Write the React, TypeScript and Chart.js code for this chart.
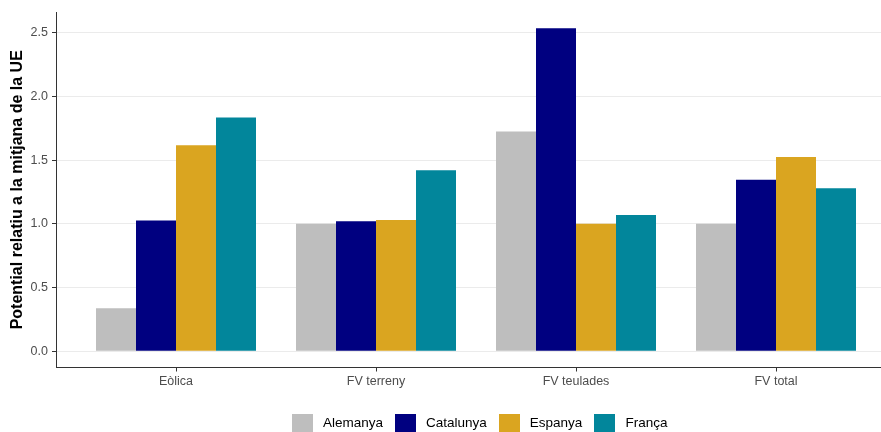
import React, { useEffect, useRef } from "react";
import { Chart, registerables } from "chart.js";

Chart.register(...registerables);

const categories = ["Eòlica", "FV terreny", "FV teulades", "FV total"];
const seriesNames = ["Alemanya", "Catalunya", "Espanya", "França"];
const alemanya = [0.337, 1.0, 1.725, 1.0];
const catalunya = [1.027, 1.02, 2.535, 1.345];
const espanya = [1.616, 1.03, 1.0, 1.525];
const franca = [1.835, 1.42, 1.07, 1.28];
const yTicks = [0, 0.5, 1.0, 1.5, 2.0, 2.5];
const colors = ["#BEBEBE", "#000080", "#DAA520", "#02869B"];
const yTitle = "Potential relatiu a la mitjana de la UE";

const FONT = "'Liberation Sans', Arial, Helvetica, sans-serif";

export default function App() {
  const ref = useRef<HTMLCanvasElement | null>(null);

  useEffect(() => {
    if (!ref.current) return;
    const seriesValues = [alemanya, catalunya, espanya, franca];
    const chart = new Chart(ref.current, {
      type: "bar",
      data: {
        datasets: seriesNames.map((name, i) => ({
          label: name,
          data: seriesValues[i].map((v, j) => ({ x: j + 1, y: v })),
          backgroundColor: colors[i],
          borderWidth: 0,
          categoryPercentage: 0.8,
          barPercentage: 1.0,
        })),
      },
      options: {
        responsive: false,
        animation: false,
        layout: { padding: { top: 12, right: 0, bottom: 0, left: 0 } },
        plugins: {
          legend: { display: false },
          tooltip: { enabled: false },
        },
        scales: {
          x: {
            type: "linear",
            offset: false,
            min: 0.4,
            max: 4.525,
            afterBuildTicks: (s: any) => {
              s.ticks = categories.map((_, i) => ({ value: i + 1 }));
            },
            afterFit: (s: any) => {
              s.height = 64.5;
            },
            ticks: {
              autoSkip: false,
              maxRotation: 0,
              color: "#4D4D4D",
              padding: 3,
              font: { family: FONT, size: 12.5 },
              callback: (v: any) => categories[Math.round(Number(v)) - 1] ?? "",
            },
            grid: {
              display: true,
              offset: false,
              drawOnChartArea: false,
              drawTicks: true,
              tickLength: 4,
              tickColor: "#333333",
              tickWidth: 1,
            },
            border: { display: true, color: "#333333", width: 1 },
          },
          y: {
            type: "linear",
            min: -0.127,
            max: 2.662,
            afterBuildTicks: (s: any) => {
              s.ticks = yTicks.map((v) => ({ value: v }));
            },
            afterFit: (s: any) => {
              s.width = 56;
            },
            ticks: {
              color: "#4D4D4D",
              padding: 4,
              font: { family: FONT, size: 12.5 },
              callback: (v: any) => Number(v).toFixed(1),
            },
            grid: {
              color: "#EBEBEB",
              lineWidth: 1,
              drawTicks: true,
              tickLength: 4,
              tickColor: "#333333",
              tickWidth: 1,
            },
            border: { display: true, color: "#333333", width: 1 },
            title: {
              display: true,
              text: yTitle,
              color: "#000000",
              font: { family: FONT, size: 16, weight: "bold" },
              padding: { top: 8, bottom: 0 },
            },
          },
        },
      },
    } as any);
    return () => chart.destroy();
  }, []);

  return (
    <div
      style={{
        position: "absolute",
        left: 0,
        top: 0,
        width: 881,
        height: 432,
        background: "#FFFFFF",
        overflow: "hidden",
        fontFamily: FONT,
      }}
    >
      <canvas ref={ref} width={881} height={432} style={{ display: "block" }} />
      <div
        style={{
          position: "absolute",
          top: 414,
          left: 292,
          height: 18,
          display: "flex",
          alignItems: "center",
          whiteSpace: "nowrap",
        }}
      >
        {seriesNames.map((name, i) => (
          <div key={name} style={{ display: "flex", alignItems: "center", marginRight: 12 }}>
            <span
              style={{
                display: "inline-block",
                width: 21,
                height: 18,
                background: colors[i],
                marginRight: 10,
              }}
            />
            <span style={{ fontSize: 13.5, color: "#000000", lineHeight: "18px" }}>{name}</span>
          </div>
        ))}
      </div>
    </div>
  );
}
